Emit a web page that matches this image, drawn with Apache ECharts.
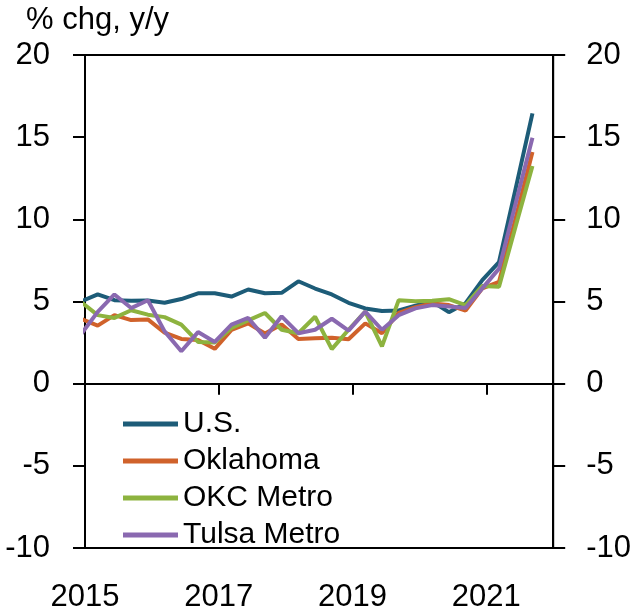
<!DOCTYPE html>
<html>
<head>
<meta charset="utf-8">
<script src="https://cdn.jsdelivr.net/npm/echarts@6/dist/echarts.min.js"></script>
<style>
  html, body { margin: 0; padding: 0; background: #fff; }
  #chart { width: 634px; height: 613px; }
</style>
</head>
<body>
<div id="chart"></div>
<script>
// quarterly data, % chg y/y
const quarters = [
  '2014Q4',
  '2015Q1', '2015Q2', '2015Q3', '2015Q4',
  '2016Q1', '2016Q2', '2016Q3', '2016Q4',
  '2017Q1', '2017Q2', '2017Q3', '2017Q4',
  '2018Q1', '2018Q2', '2018Q3', '2018Q4',
  '2019Q1', '2019Q2', '2019Q3', '2019Q4',
  '2020Q1', '2020Q2', '2020Q3', '2020Q4',
  '2021Q1', '2021Q2', '2021Q3'
];
const us = [5.0, 5.43, 5.08, 5.04, 5.06, 4.92, 5.15, 5.5, 5.5, 5.3, 5.73, 5.5, 5.53, 6.23, 5.79, 5.43, 4.92, 4.58, 4.42, 4.45, 4.75, 5.0, 4.35, 4.9, 6.3, 7.4, 11.9, 16.45];
const oklahoma = [3.95, 3.53, 4.17, 3.87, 3.91, 3.1, 2.72, 2.66, 2.12, 3.27, 3.67, 3.05, 3.6, 2.72, 2.76, 2.8, 2.7, 3.67, 3.07, 4.3, 4.65, 4.88, 4.78, 4.45, 5.8, 6.2, 10.1, 14.1];
const okcMetro = [4.97, 4.17, 4.0, 4.47, 4.2, 4.05, 3.59, 2.54, 2.5, 3.39, 3.85, 4.3, 3.28, 3.07, 4.07, 2.1, 3.28, 4.38, 2.27, 5.08, 5.02, 5.04, 5.14, 4.78, 5.95, 5.9, 9.6, 13.25];
const tulsaMetro = [3.0, 4.37, 5.43, 4.6, 5.08, 3.18, 1.97, 3.14, 2.54, 3.59, 4.0, 2.8, 4.1, 3.07, 3.28, 3.95, 3.23, 4.38, 3.28, 4.17, 4.58, 4.78, 4.7, 4.6, 5.8, 7.0, 11.0, 14.97];
const yearTicks = [2015, 2017, 2019, 2021];

const FONT = '"Liberation Sans", Arial, sans-serif';

// quarter label -> position on the year axis (points sit early in the last month of the quarter)
function qx(q) {
  const y = parseInt(q.slice(0, 4), 10);
  const n = parseInt(q.slice(5), 10);
  return y + (n - 1) * 0.25 + 0.19;
}
function pairs(vals) {
  return vals.map((v, i) => [qx(quarters[i]), v]);
}

const chart = echarts.init(document.getElementById('chart'));

const yAxisBase = {
  type: 'value',
  min: -10,
  max: 20,
  interval: 5,
  splitLine: { show: false },
  axisLine: { show: true, onZero: false, lineStyle: { color: '#000', width: 2 } },
  axisTick: { show: true, length: 12, lineStyle: { color: '#000', width: 2 } },
  axisLabel: { color: '#000', fontSize: 31, fontFamily: FONT }
};

const lineSeries = (name, vals, color) => ({
  name: name,
  type: 'line',
  data: pairs(vals),
  symbol: 'none',
  xAxisIndex: 0,
  yAxisIndex: 0,
  lineStyle: { color: color, width: 4 },
  itemStyle: { color: color }
});

const option = {
  animation: false,
  title: {
    text: '% chg, y/y',
    left: 21,
    top: 0,
    textStyle: { color: '#000', fontSize: 31, fontWeight: 'normal', fontFamily: FONT }
  },
  legend: {
    orient: 'vertical',
    left: 118,
    top: 404,
    icon: 'rect',
    itemWidth: 55,
    itemHeight: 5,
    itemGap: 7,
    textStyle: { color: '#000', fontSize: 30, fontFamily: FONT }
  },
  grid: {
    left: 85,
    right: 77,
    top: 55,
    bottom: 62,
    show: true,
    borderColor: '#000',
    borderWidth: 2,
    backgroundColor: 'transparent'
  },
  xAxis: [
    {
      type: 'value',
      position: 'bottom',
      min: 2015,
      max: 2022,
      interval: 2,
      splitLine: { show: false },
      axisLine: { show: false, onZero: false },
      axisTick: { show: false },
      axisLabel: {
        color: '#000',
        fontSize: 31,
        fontFamily: FONT,
        margin: 34,
        formatter: v => (yearTicks.indexOf(v) >= 0 ? String(v) : '')
      }
    },
    {
      type: 'value',
      position: 'top',
      min: 2015,
      max: 2022,
      interval: 2,
      splitLine: { show: false },
      axisLine: { show: true, onZero: true, lineStyle: { color: '#000', width: 2 } },
      axisTick: { show: true, inside: true, length: 11, lineStyle: { color: '#000', width: 2 } },
      axisLabel: { show: false }
    }
  ],
  yAxis: [
    Object.assign({}, yAxisBase, {
      position: 'left',
      axisLabel: Object.assign({}, yAxisBase.axisLabel, { margin: 35 })
    }),
    Object.assign({}, yAxisBase, {
      position: 'right',
      axisLabel: Object.assign({}, yAxisBase.axisLabel, { margin: 33 })
    })
  ],
  series: [
    lineSeries('U.S.', us, '#1d5c78'),
    lineSeries('Oklahoma', oklahoma, '#d0622b'),
    lineSeries('OKC Metro', okcMetro, '#8db33f'),
    lineSeries('Tulsa Metro', tulsaMetro, '#8a69b0')
  ]
};

chart.setOption(option);
</script>
</body>
</html>
